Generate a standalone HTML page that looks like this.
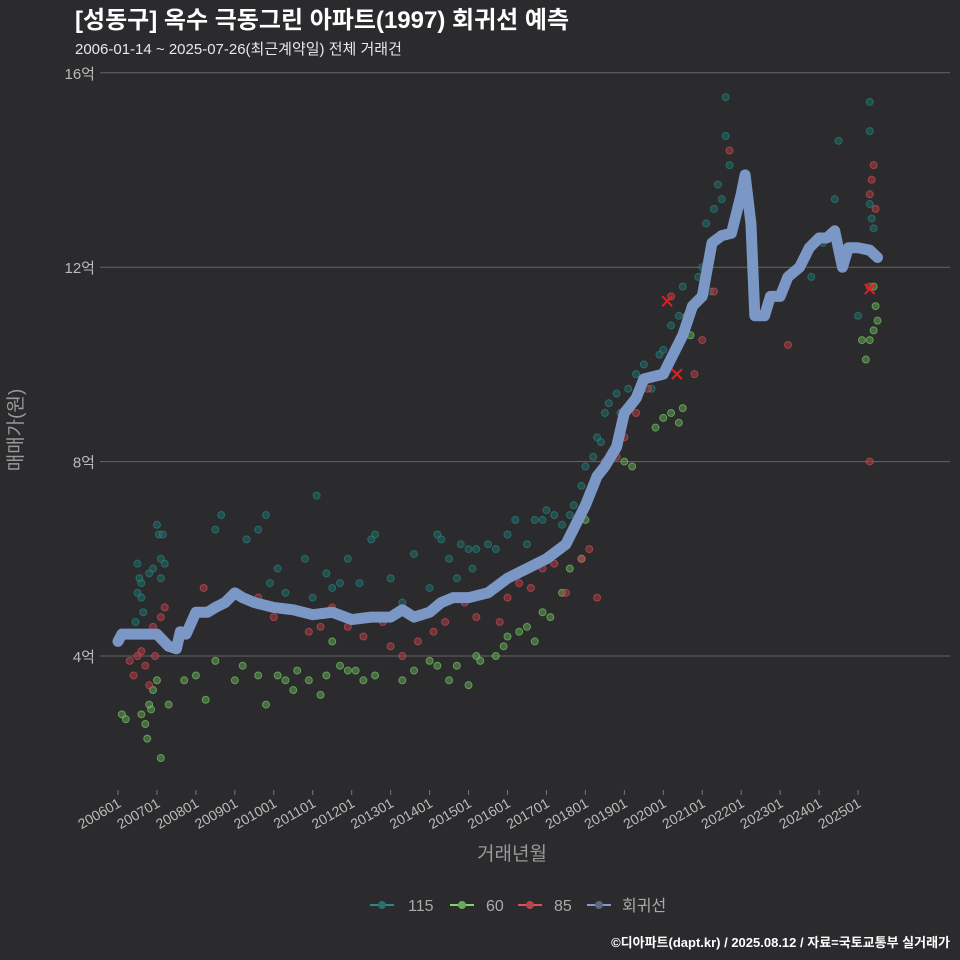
<!DOCTYPE html>
<html><head><meta charset="utf-8">
<style>
html,body{margin:0;padding:0;background:#2b2a2c;}
svg{display:block;font-family:"Liberation Sans","Noto Sans CJK KR",sans-serif;}
</style></head>
<body>
<svg id="chart" width="960" height="960" viewBox="0 0 960 960">
<rect width="960" height="960" fill="#2b2a2c"/>
<text x="75" y="28" fill="#ffffff" font-size="24" font-weight="bold">[성동구] 옥수 극동그린 아파트(1997) 회귀선 예측</text>
<text x="75" y="54" fill="#e8e8e8" font-size="15">2006-01-14 ~ 2025-07-26(최근계약일) 전체 거래건</text>
<g id="grid"></g>
<g id="yticks"></g>
<g id="xticks"></g>
<g id="points"></g>
<g id="line"></g>
<g id="marks"></g>
<text x="22" y="430" fill="#999" font-size="19" transform="rotate(-90 22 430)" text-anchor="middle">매매가(원)</text>
<text x="512" y="860" fill="#999" font-size="19" text-anchor="middle">거래년월</text>
<g>
<g><line x1="370" y1="905" x2="394" y2="905" stroke="#2a8a86" stroke-width="2"/><circle cx="382" cy="905" r="4" fill="#2a6f6c"/><text x="408" y="911" fill="#aaa" font-size="16">115</text></g>
<g><line x1="450" y1="905" x2="474" y2="905" stroke="#7ed56f" stroke-width="2"/><circle cx="462" cy="905" r="4" fill="#6aaa5c"/><text x="486" y="911" fill="#aaa" font-size="16">60</text></g>
<g><line x1="518" y1="905" x2="542" y2="905" stroke="#e0505a" stroke-width="2"/><circle cx="530" cy="905" r="4" fill="#b84450"/><text x="554" y="911" fill="#aaa" font-size="16">85</text></g>
<g><line x1="587" y1="905" x2="611" y2="905" stroke="#7f9ccc" stroke-width="2"/><circle cx="599" cy="905" r="4" fill="#5a6a80"/><text x="622" y="911" fill="#aaa" font-size="16">회귀선</text></g>
</g>
<text x="950" y="947" fill="#ffffff" font-size="13" font-weight="bold" text-anchor="end">©디아파트(dapt.kr) / 2025.08.12 / 자료=국토교통부 실거래가</text>
</svg>
<script>
const yTicks=[4,8,12,16];
const xTickLabels=["200601","200701","200801","200901","201001","201101","201201","201301","201401","201501","201601","201701","201801","201901","202001","202101","202201","202301","202401","202501"];
const lineX=[2006.0,2006.1,2007.0,2007.3,2007.5,2007.6,2007.75,2008.0,2008.3,2008.5,2008.75,2009.0,2009.2,2009.5,2010.0,2010.5,2011.0,2011.5,2012.0,2012.5,2013.0,2013.3,2013.6,2014.0,2014.3,2014.6,2015.0,2015.5,2016.0,2016.5,2017.0,2017.5,2018.0,2018.3,2018.5,2018.8,2019.0,2019.3,2019.5,2020.0,2020.25,2020.5,2020.75,2021.0,2021.25,2021.5,2021.75,2022.0,2022.1,2022.25,2022.35,2022.6,2022.75,2023.0,2023.2,2023.5,2023.75,2024.0,2024.2,2024.4,2024.6,2024.75,2025.0,2025.3,2025.5];
const lineY=[4.3,4.45,4.45,4.2,4.15,4.5,4.45,4.9,4.9,5.0,5.1,5.3,5.2,5.1,5.0,4.95,4.85,4.9,4.75,4.8,4.8,4.95,4.8,4.9,5.1,5.2,5.2,5.3,5.6,5.8,6.0,6.3,7.1,7.7,7.9,8.3,9.0,9.3,9.7,9.8,10.2,10.6,11.2,11.4,12.5,12.65,12.7,13.5,13.9,12.9,11.0,11.0,11.4,11.4,11.8,12.0,12.4,12.6,12.6,12.75,12.0,12.4,12.4,12.35,12.2];
const s115X=[2006.45,2006.5,2006.5,2006.55,2006.6,2006.6,2006.65,2006.8,2006.9,2007.0,2007.05,2007.1,2007.15,2007.2,2007.1,2008.5,2008.65,2009.3,2009.6,2009.8,2009.9,2010.1,2010.3,2010.8,2011.0,2011.1,2011.35,2011.5,2011.7,2011.9,2012.2,2012.5,2012.6,2013.0,2013.3,2013.6,2014.0,2014.2,2014.3,2014.5,2014.7,2014.8,2015.0,2015.1,2015.2,2015.5,2015.7,2016.0,2016.2,2016.5,2016.7,2016.9,2017.0,2017.2,2017.4,2017.6,2017.7,2017.9,2018.0,2018.2,2018.3,2018.4,2018.5,2018.6,2018.8,2018.9,2019.1,2019.3,2019.5,2019.7,2019.9,2020.0,2020.2,2020.4,2020.5,2020.7,2020.9,2021.0,2021.1,2021.3,2021.4,2021.5,2021.6,2021.6,2021.7,2021.2,2023.6,2023.8,2024.1,2024.5,2024.4,2025.0,2025.3,2025.3,2025.35,2025.4,2025.3];
const s115Y=[4.7,5.3,5.9,5.6,5.5,5.2,4.9,5.7,5.8,6.7,6.5,6.0,6.5,5.9,5.6,6.6,6.9,6.4,6.6,6.9,5.5,5.8,5.3,6.0,5.2,7.3,5.7,5.4,5.5,6.0,5.5,6.4,6.5,5.6,5.1,6.1,5.4,6.5,6.4,6.0,5.6,6.3,6.2,5.8,6.2,6.3,6.2,6.5,6.8,6.3,6.8,6.8,7.0,6.9,6.7,6.9,7.1,7.5,7.9,8.1,8.5,8.4,9.0,9.2,9.4,9.0,9.5,9.8,10.0,9.5,10.2,10.3,10.8,11.0,11.6,11.2,11.8,12.0,12.9,13.2,13.7,13.4,14.7,15.5,14.1,11.5,12.2,11.8,12.5,14.6,13.4,11.0,15.4,14.8,13.0,12.8,13.3];
const s60X=[2006.1,2006.2,2006.6,2006.7,2006.75,2006.8,2006.85,2006.9,2007.0,2007.1,2007.3,2007.7,2008.0,2008.25,2008.5,2009.0,2009.2,2009.6,2009.8,2010.1,2010.3,2010.5,2010.6,2010.9,2011.2,2011.35,2011.5,2011.7,2011.9,2012.1,2012.3,2012.6,2013.3,2013.6,2014.0,2014.2,2014.5,2014.7,2015.0,2015.2,2015.3,2015.7,2015.9,2016.0,2016.3,2016.5,2016.7,2016.9,2017.1,2017.4,2017.6,2017.9,2018.0,2019.0,2019.2,2019.8,2020.0,2020.2,2020.4,2020.5,2020.7,2025.1,2025.2,2025.3,2025.4,2025.45,2025.5,2025.4];
const s60Y=[2.8,2.7,2.8,2.6,2.3,3.0,2.9,3.3,3.5,1.9,3.0,3.5,3.6,3.1,3.9,3.5,3.8,3.6,3.0,3.6,3.5,3.3,3.7,3.5,3.2,3.6,4.3,3.8,3.7,3.7,3.5,3.6,3.5,3.7,3.9,3.8,3.5,3.8,3.4,4.0,3.9,4.0,4.2,4.4,4.5,4.6,4.3,4.9,4.8,5.3,5.8,6.0,6.8,8.0,7.9,8.7,8.9,9.0,8.8,9.1,10.6,10.5,10.1,10.5,10.7,11.2,10.9,11.6];
const s85X=[2006.3,2006.4,2006.5,2006.6,2006.7,2006.8,2006.9,2006.95,2007.1,2007.2,2008.2,2009.0,2009.6,2010.0,2010.6,2010.9,2011.2,2011.5,2011.9,2012.3,2012.6,2012.8,2013.0,2013.3,2013.7,2014.1,2014.4,2014.9,2015.2,2015.4,2015.8,2016.0,2016.3,2016.6,2016.9,2017.2,2017.5,2017.9,2018.1,2018.3,2018.5,2018.8,2019.0,2019.3,2019.6,2020.2,2020.6,2020.8,2021.0,2021.3,2021.7,2023.2,2025.3,2025.3,2025.4,2025.35,2025.3,2025.45];
const s85Y=[3.9,3.6,4.0,4.1,3.8,3.4,4.6,4.0,4.8,5.0,5.4,5.3,5.2,4.8,4.9,4.5,4.6,5.0,4.6,4.4,4.8,4.7,4.2,4.0,4.3,4.5,4.7,5.1,4.8,5.3,4.7,5.2,5.5,5.4,5.8,5.9,5.3,6.0,6.2,5.2,8.0,8.1,8.5,9.0,9.5,11.4,11.0,9.8,10.5,11.5,14.4,10.4,11.6,8.0,14.1,13.8,13.5,13.2];
const markX=[2020.1,2020.35,2025.3];
const markY=[11.3,9.8,11.55];

const NS="http://www.w3.org/2000/svg";
const X0=118, PX_YEAR=38.95, Y4=656, PX_UNIT=48.6;
function xs(t){return X0+(t-2006)*PX_YEAR;}
function ys(v){return Y4-(v-4)*PX_UNIT;}
function mk(tag,attrs,parent){const e=document.createElementNS(NS,tag);for(const k in attrs)e.setAttribute(k,attrs[k]);parent.appendChild(e);return e;}

const grid=document.getElementById('grid'), yt=document.getElementById('yticks'), xt=document.getElementById('xticks');
yTicks.forEach(v=>{
  const l=mk('line',{x1:100,x2:950,y1:ys(v),y2:ys(v),stroke:'#666','stroke-width':1},grid);
  
  
  const t=mk('text',{x:95,y:ys(v)+6,fill:'#bbb','font-size':15,'text-anchor':'end'},yt);
  t.textContent=v+'억';
  
  
});
xTickLabels.forEach((s,i)=>{
  const x=xs(2006+i);
  const tk=mk('line',{x1:x,x2:x,y1:790,y2:795,stroke:'#777'},xt);
  
  
  const t=mk('text',{x:x+4,y:806,fill:'#bbb','font-size':14,'text-anchor':'end',transform:'rotate(-30 '+(x+4)+' 806)'},xt);
  t.textContent=s;
  
  
});
const pts=document.getElementById('points');
function series(X,Y,fill,stroke,name){
  X.forEach((x,i)=>{
    const c=mk('circle',{cx:xs(x),cy:ys(Y[i]),r:3.5,fill:fill,'fill-opacity':0.55,stroke:stroke,'stroke-opacity':0.6,'stroke-width':1},pts);
    
    
  });
}
series(s115X,s115Y,'#1f6b68','#2a8a86','point-115');
series(s60X,s60Y,'#5f9f52','#7ed56f','point-60');
series(s85X,s85Y,'#a53c46','#e0505a','point-85');
const ln=document.getElementById('line');
const p=mk('polyline',{points:lineX.map((x,i)=>xs(x)+','+ys(lineY[i])).join(' '),fill:'none',stroke:'#7b97c6','stroke-width':11,'stroke-linejoin':'round','stroke-linecap':'round'},ln);


const mg=document.getElementById('marks');
markX.forEach((x,i)=>{
  const cx=xs(x),cy=ys(markY[i]);
  const g=mk('g',{},mg);
  
  
  mk('line',{x1:cx-5,y1:cy-5,x2:cx+5,y2:cy+5,stroke:'#e02020','stroke-width':2},g);
  mk('line',{x1:cx-5,y1:cy+5,x2:cx+5,y2:cy-5,stroke:'#e02020','stroke-width':2},g);
});
</script>
</body></html>
